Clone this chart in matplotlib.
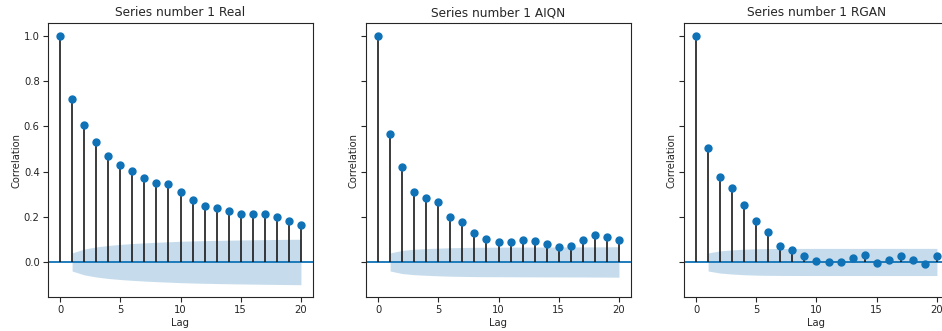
import matplotlib
matplotlib.use("Agg")
import matplotlib.pyplot as plt
import numpy as np

plt.rcParams["font.family"] = ["DejaVu Sans"]

# autocorrelation values, lags 0..20
lags = np.arange(21)
acf_real = [1.0, 0.720, 0.604, 0.532, 0.470, 0.429, 0.401, 0.373, 0.351, 0.345, 0.311,
            0.276, 0.248, 0.238, 0.225, 0.213, 0.213, 0.214, 0.197, 0.181, 0.162]
acf_aiqn = [1.0, 0.565, 0.418, 0.311, 0.282, 0.264, 0.197, 0.175, 0.126, 0.100, 0.088,
            0.088, 0.097, 0.093, 0.078, 0.065, 0.072, 0.097, 0.120, 0.112, 0.095]
acf_rgan = [1.0, 0.502, 0.377, 0.326, 0.254, 0.179, 0.134, 0.070, 0.053, 0.025, 0.003,
            0.002, 0.001, 0.016, 0.031, -0.006, 0.010, 0.028, 0.009, -0.010, 0.026]
titles = ["Series number 1 Real", "Series number 1 AIQN", "Series number 1 RGAN"]
nobs = 2400  # series length, sets the width of the confidence band

TEXT = "#262626"
BLUE = "#0f72b6"


def bartlett_band(acf, n, z=1.96):
    # same as statsmodels plot_acf: half-width of the 95% band, lags 1..
    acf = np.asarray(acf)
    var = np.ones(len(acf)) / n
    var[0] = 0
    var[2:] *= 1 + 2 * np.cumsum(acf[1:-1] ** 2)
    return z * np.sqrt(var)


fig = plt.figure(figsize=(9.42, 3.31), dpi=100)
axes = []
for i in range(3):
    left = (48 + i * 318) / 942
    ax = fig.add_axes([left, 34 / 331, 265 / 942, 274 / 331],
                      sharey=axes[0] if axes else None)
    axes.append(ax)

for ax, acf, title in zip(axes, [acf_real, acf_aiqn, acf_rgan], titles):
    band = bartlett_band(acf, nobs)
    ax.vlines(lags, 0, acf, colors="#1a1a1a", linewidth=1.2, zorder=2)
    ax.plot(lags, acf, "o", color=BLUE, markersize=5, zorder=3)
    ax.axhline(0, color=BLUE, linewidth=1.3, zorder=1)
    ax.fill_between(lags[1:], -band[1:], band[1:], color="#1f77b4", alpha=0.25,
                    linewidth=0, zorder=0)
    ax.set_xlim(-1, 21)
    ax.set_title(title, fontsize=8.7, color=TEXT, pad=5)
    ax.set_xlabel("Lag", fontsize=7.2, color=TEXT, labelpad=2)
    ax.set_ylabel("Correlation", fontsize=7.2, color=TEXT, labelpad=2)
    ax.set_xticks([0, 5, 10, 15, 20])
    ax.tick_params(labelsize=7.2, colors=TEXT, length=3.5, pad=2.5)
    for s in ax.spines.values():
        s.set_color(TEXT)
        s.set_linewidth(0.8)

axes[0].set_ylim(-0.155, 1.057)
axes[0].set_yticks([0.0, 0.2, 0.4, 0.6, 0.8, 1.0])
for ax in axes[1:]:
    ax.tick_params(labelleft=False)

fig.savefig("out.png", dpi=100)
